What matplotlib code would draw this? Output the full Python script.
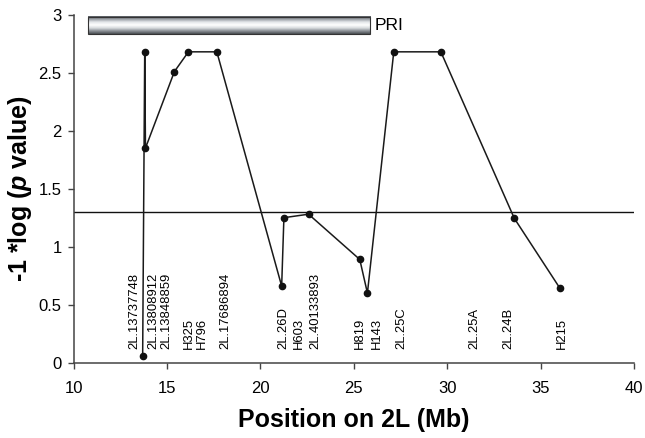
import matplotlib
matplotlib.use("Agg")
import matplotlib.pyplot as plt
import numpy as np
from matplotlib.colors import LinearSegmentedColormap

plt.rcParams['font.family'] = ['Liberation Sans', 'DejaVu Sans']
plt.rcParams['mathtext.fontset'] = 'custom'
plt.rcParams['mathtext.it'] = 'Liberation Sans:bold:italic'
plt.rcParams['mathtext.rm'] = 'Liberation Sans:bold'

# marker positions (Mb) and -log p values, in plotting order
pos = [13.70, 13.81, 13.85, 15.40, 16.15, 17.67, 21.14, 21.26, 22.58,
       25.32, 25.73, 27.14, 29.66, 33.59, 36.04]
logp = [0.06, 2.68, 1.85, 2.51, 2.68, 2.68, 0.66, 1.25, 1.28,
        0.89, 0.60, 2.68, 2.68, 1.245, 0.64]

# marker names and where their labels sit along the axis
marker_names = ['2L.13737748', '2L.13808912', '2L.13848859', 'H325', 'H796',
                '2L.17686894', '2L.26D', 'H603', '2L.40133893', 'H819',
                'H143', '2L.25C', '2L.25A', '2L.24B', 'H215']
label_x = [13.25, 14.30, 14.98, 16.20, 16.88, 18.13, 21.21, 22.06, 22.96,
           25.30, 26.22, 27.55, 31.48, 33.27, 36.13]

threshold = 1.301
pri_start, pri_end = 10.75, 25.86

fig = plt.figure(figsize=(6.45, 4.38), dpi=100)
ax = fig.add_axes([0.114, 0.172, 0.869, 0.7944])

ax.plot(pos, logp, color='#1a1a1a', lw=1.1, marker='o', ms=4.5,
        markerfacecolor='#111111', markeredgecolor='#111111', zorder=3)
ax.axhline(threshold, color='#111111', lw=1.0, zorder=2)

# PRI region as a shaded bar
cmap = LinearSegmentedColormap.from_list(
    'metal', ['#55595e', '#9a9fa5', '#e4e7ea', '#ffffff', '#d8dbde', '#8c9197', '#4a4e53'])
grad = np.linspace(0, 1, 64).reshape(-1, 1)
ax.imshow(grad, cmap=cmap, aspect='auto', extent=[pri_start, pri_end, 2.83, 2.98],
          origin='upper', zorder=4)
ax.add_patch(plt.Rectangle((pri_start, 2.83), pri_end - pri_start, 0.15,
                           fill=False, edgecolor='#333333', lw=0.8, zorder=5))
ax.text(pri_end + 0.26, 2.907, 'PRI', fontsize=12.5, va='center', ha='left')

for name, x in zip(marker_names, label_x):
    ax.text(x, 0.115, name, rotation=90, ha='center', va='bottom', fontsize=9.4)

ax.set_xlim(10, 40)
ax.set_ylim(0, 3)
ax.set_xticks(np.arange(10, 41, 5))
ax.set_yticks([0, 0.5, 1, 1.5, 2, 2.5, 3])
ax.set_yticklabels(['0', '0.5', '1', '1.5', '2', '2.5', '3'])
ax.tick_params(labelsize=12, direction='out', length=4.5, width=1, color='#444444')
ax.tick_params(axis='x', pad=9)
ax.tick_params(axis='y', pad=4)
ax.spines['top'].set_visible(False)
ax.spines['right'].set_visible(False)
for s in ['left', 'bottom']:
    ax.spines[s].set_color('#444444')
    ax.spines[s].set_linewidth(1.1)

ax.set_xlabel('Position on 2L (Mb)', fontsize=18, fontweight='bold', labelpad=8)
ax.set_ylabel('-1 *log ($p$ value)', fontsize=18, fontweight='bold', labelpad=3)

fig.savefig('out.png', dpi=100)
